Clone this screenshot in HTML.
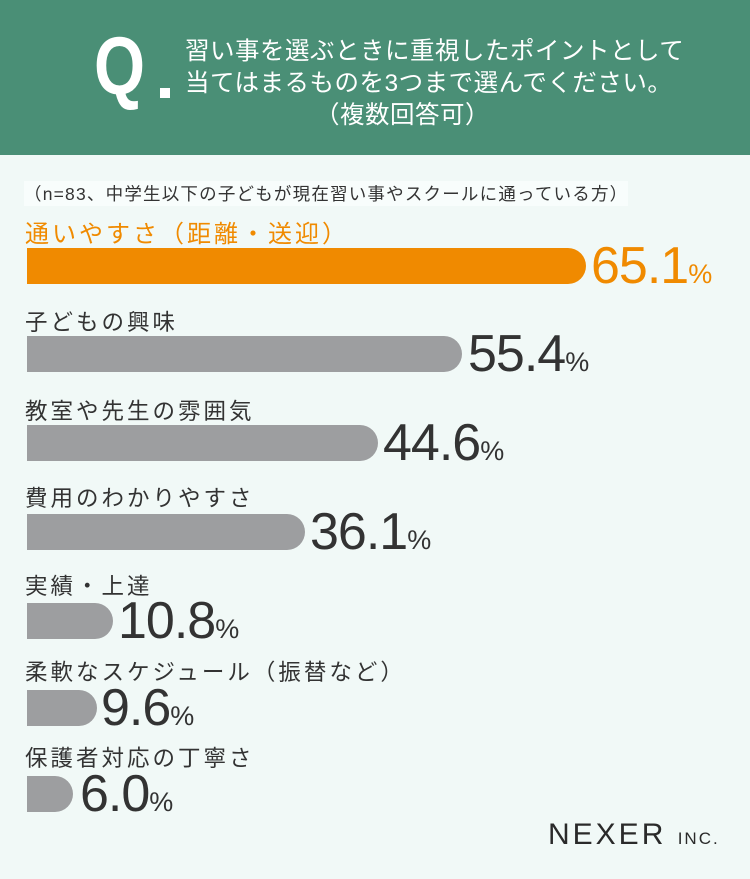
<!DOCTYPE html>
<html><head><meta charset="utf-8"><style>
body{margin:0;width:750px;height:879px;background:#f1f9f7;font-family:"Liberation Sans","Noto Sans CJK JP",sans-serif;position:relative;overflow:hidden}
.hd{position:absolute;left:0;top:0;width:750px;height:155px;background:#4a8f76}
.q{position:absolute;left:94px;top:26px;font-size:82px;color:#fff;font-weight:bold;line-height:1;transform:scaleX(0.8);transform-origin:left top}
.dot{position:absolute;left:160px;top:88px;width:10px;height:10px;background:#fff}
.qt{position:absolute;left:185px;top:36px;color:#fff;font-size:24.5px;line-height:32px;letter-spacing:0.5px}
.sub{position:absolute;left:24px;top:181px;font-size:17.5px;color:#333;background:#f8fdfc;letter-spacing:1.2px}
.lb{position:absolute;left:25px;font-size:22.5px;color:#333;letter-spacing:3px}
.bar{position:absolute;left:27px;height:36px;background:#9d9ea0;border-radius:0 18px 18px 0}
.n{position:absolute;font-size:52px;color:#333;line-height:1;letter-spacing:-1px}
.n span{font-size:27px;letter-spacing:0}
.o{color:#f08a00}
.logo{position:absolute;left:548px;top:818px;font-size:30px;color:#2a2a2a;letter-spacing:3px}
.logo span{font-size:17px;letter-spacing:2px}
</style></head><body>
<div class="hd"></div>
<div class="q">Q</div><div class="dot"></div>
<div class="qt">習い事を選ぶときに重視したポイントとして<br>当てはまるものを3つまで選んでください。<br><span style="margin-left:130px">（複数回答可）</span></div>
<div class="sub">（n=83、中学生以下の子どもが現在習い事やスクールに通っている方）</div>

<div class="lb o" style="top:214px;font-size:24px">通いやすさ（距離・送迎）</div>
<div class="bar" style="top:248px;width:559px;background:#f08a00"></div>
<div class="n o" style="left:591px;top:240px">65.1<span>%</span></div>

<div class="lb" style="top:305px">子どもの興味</div>
<div class="bar" style="top:336px;width:435px"></div>
<div class="n" style="left:468px;top:328px">55.4<span>%</span></div>

<div class="lb" style="top:394px">教室や先生の雰囲気</div>
<div class="bar" style="top:425px;width:351px"></div>
<div class="n" style="left:383px;top:417px">44.6<span>%</span></div>

<div class="lb" style="top:481px">費用のわかりやすさ</div>
<div class="bar" style="top:514px;width:278px"></div>
<div class="n" style="left:310px;top:506px">36.1<span>%</span></div>

<div class="lb" style="top:569px">実績・上達</div>
<div class="bar" style="top:603px;width:86px"></div>
<div class="n" style="left:118px;top:595px">10.8<span>%</span></div>

<div class="lb" style="top:655px">柔軟なスケジュール（振替など）</div>
<div class="bar" style="top:690px;width:70px"></div>
<div class="n" style="left:101px;top:682px">9.6<span>%</span></div>

<div class="lb" style="top:741px">保護者対応の丁寧さ</div>
<div class="bar" style="top:776px;width:46px"></div>
<div class="n" style="left:80px;top:768px">6.0<span>%</span></div>

<div class="logo">NEXER <span>INC.</span></div>
</body></html>
